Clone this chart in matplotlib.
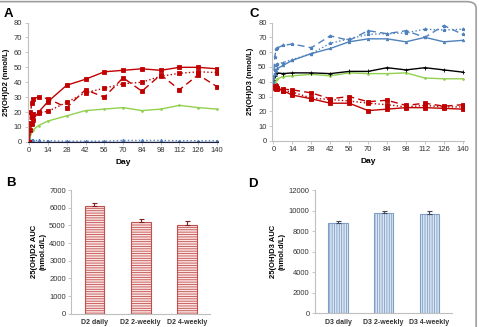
import matplotlib
matplotlib.use("Agg")
import matplotlib.pyplot as plt
from matplotlib.patches import FancyBboxPatch

plt.rcParams['font.family'] = ['Liberation Sans', 'DejaVu Sans']
plt.rcParams['hatch.linewidth'] = 0.6

# ---------------- data ----------------
days = [0, 1, 2, 3, 7, 14, 28, 42, 56, 70, 84, 98, 112, 126, 140]

# Panel A: 25(OH)D2
a_d2_solid = [0, 8, 12, 15, 20, 27, 38, 42, 47, 48, 49, 48, 50, 50, 49]
a_d2_dash = [0, 20, 26, 29, 30, 29, 23, 35, 30, 43, 34, 45, 35, 45, 37]
a_d2_dot = [0, 13, 17, 19, 19.5, 20.5, 26.5, 33, 36, 39, 40, 44, 46, 47, 46.5]
a_green = [0, 5, 7, 8, 11, 14, 17.5, 21, 22, 23, 21, 22, 24.5, 23, 22]
a_blue = [0, 1, 1, 1, 1, 0.8, 0.5, 0.5, 0.5, 1, 1, 1, 0.8, 0.8, 0.8]
a_black = [0, 0, 0, 0, 0, 0, 0, 0, 0, 0, 0, 0, 0, 0, 0]

# Panel C: 25(OH)D3
c_blue_dash = [40, 57, 62, 63, 64.5, 65.5, 63, 71, 68, 74.5, 72.5, 74.5, 70, 78, 72]
c_blue_dot = [40, 48, 51, 52, 53, 55, 59, 66, 69, 72, 72.5, 73, 75.5, 75, 75.5]
c_blue_solid = [40, 45, 47, 49, 51, 54.5, 59, 62.5, 67, 69, 69, 67, 70, 67, 68]
c_black = [41, 44, 46, 46, 45.5, 46, 46, 45.5, 47, 47, 49.5, 48, 49.5, 48, 46.5]
c_green = [40, 40, 41, 42, 43.5, 44, 45, 44, 46, 45.5, 45.5, 46, 42.5, 42, 42]
c_red_solid = [40, 38, 37, 36, 34, 31, 28.5, 25.5, 25.5, 20.5, 21.5, 22.5, 22.5, 22, 21.5]
c_red_dash = [39, 37, 36.5, 36, 35, 34.5, 32.5, 28.5, 30, 26.5, 27.5, 24, 25.5, 23.5, 24.5]
c_red_dot = [39, 36, 35, 35, 34, 33, 29, 28, 27, 25.5, 24.5, 23, 24, 23, 23]

# Panel B / D: AUC
b_groups = ["D2 daily", "D2 2-weekly", "D2 4-weekly"]
b_auc = [6080, 5180, 5050]
b_err = [200, 200, 220]
d_groups = ["D3 daily", "D3 2-weekly", "D3 4-weekly"]
d_auc = [8780, 9780, 9680]
d_err = [200, 200, 250]

day_ticks = [0, 14, 28, 42, 56, 70, 84, 98, 112, 126, 140]

RED = '#C00000'
GREEN = '#92D050'
BLUE = '#4F81BD'
GRID = '#BFBFBF'
FS = 5.5

fig = plt.figure(figsize=(4.79, 3.27), dpi=100)

# frame around figure (only top and right edges visible)
frame = FancyBboxPatch((-0.3, -0.3), 0.3 + 0.994, 0.3 + 0.995,
                       boxstyle="round,pad=0,rounding_size=0.02",
                       transform=fig.transFigure, fill=False,
                       edgecolor='#9E9E9E', linewidth=1.2, zorder=0)
fig.patches.append(frame)


def style_axes(ax):
    for s in ['top', 'right']:
        ax.spines[s].set_visible(False)
    for s in ['left', 'bottom']:
        ax.spines[s].set_color(GRID)
        ax.spines[s].set_linewidth(0.8)
    ax.tick_params(axis='both', labelsize=FS, length=2, width=0.6,
                   color=GRID, pad=2, labelcolor='#333333')


def line_panel(ax, series, ylabel):
    for y, color, ls, mk, ms in series:
        ax.plot(days, y, color=color, linestyle=ls, marker=mk, markersize=ms,
                linewidth=1.0, markeredgewidth=0.6)
    ax.set_xlim(-1, 141)
    ax.set_ylim(0, 80)
    ax.set_xticks(day_ticks)
    ax.set_yticks(range(0, 81, 10))
    ax.set_xlabel("Day", fontsize=6, fontweight='bold', labelpad=3)
    ax.set_ylabel(ylabel, fontsize=5.5, fontweight='bold', labelpad=3)
    style_axes(ax)


axA = fig.add_axes([0.058, 0.566, 0.398, 0.365])
line_panel(axA, [
    (a_black, '#1F1F3F', '-', 'o', 1.8),
    (a_blue, BLUE, ':', '^', 2),
    (a_green, GREEN, '-', 'o', 1.3),
    (a_d2_dot, RED, ':', 's', 2.3),
    (a_d2_dash, RED, (0, (5, 3)), 's', 2.3),
    (a_d2_solid, RED, '-', 's', 2.3),
], "25(OH)D2 (nmol/L)")
axA.spines['bottom'].set_color('#1F1F3F')

axC = fig.add_axes([0.568, 0.569, 0.401, 0.362])
line_panel(axC, [
    (c_red_dot, RED, ':', 's', 2.3),
    (c_red_dash, RED, (0, (5, 3)), 's', 2.3),
    (c_red_solid, RED, '-', 's', 2.3),
    (c_green, GREEN, '-', 'o', 1.3),
    (c_black, 'black', '-', '+', 2.5),
    (c_blue_solid, BLUE, '-', '^', 1.8),
    (c_blue_dot, BLUE, ':', '*', 2.5),
    (c_blue_dash, BLUE, (0, (5, 3)), '*', 2.5),
], "25(OH)D3 (nmol/L)")


def bar_panel(ax, groups, vals, errs, face, edge, hatch, errc, ymax, step, ylabel):
    x = list(range(len(groups)))
    ax.bar(x, vals, width=0.43, color=face, edgecolor=edge, hatch=hatch,
           linewidth=0.8)
    ax.errorbar(x, vals, yerr=[[0] * len(errs), errs], fmt='none',
                ecolor=errc, elinewidth=0.8, capsize=1.8, capthick=0.8)
    ax.set_xlim(-0.5, len(groups) - 0.5)
    ax.set_ylim(0, ymax)
    ax.set_yticks(range(0, ymax + 1, step))
    ax.set_xticks(x)
    ax.set_xticklabels(groups, fontweight='bold', fontsize=5)
    ax.set_ylabel(ylabel, fontsize=5.5, fontweight='bold', labelpad=2,
                  linespacing=1.3)
    style_axes(ax)
    ax.tick_params(axis='x', length=0, pad=4, labelsize=5)


axB = fig.add_axes([0.149, 0.0407, 0.289, 0.378])
bar_panel(axB, b_groups, b_auc, b_err, '#FBE4E4', '#C0504D', '-------',
          '#7F1F1F', 7000, 1000, "25(OH)D2 AUC\n(nmol.d/L)")

axD = fig.add_axes([0.658, 0.0416, 0.286, 0.377])
bar_panel(axD, d_groups, d_auc, d_err, '#DCE6F2', '#7F9FC8', '|||||||',
          '#404A5A', 12000, 2000, "25(OH)D3 AUC\n(nmol.d/L)")

# panel letters
for txt, x, y in [("A", 0.008, 0.958), ("C", 0.521, 0.958),
                  ("B", 0.013, 0.44), ("D", 0.517, 0.437)]:
    fig.text(x, y, txt, fontsize=9.5, fontweight='bold', va='center', ha='left')

fig.savefig("out.png", dpi=100)
